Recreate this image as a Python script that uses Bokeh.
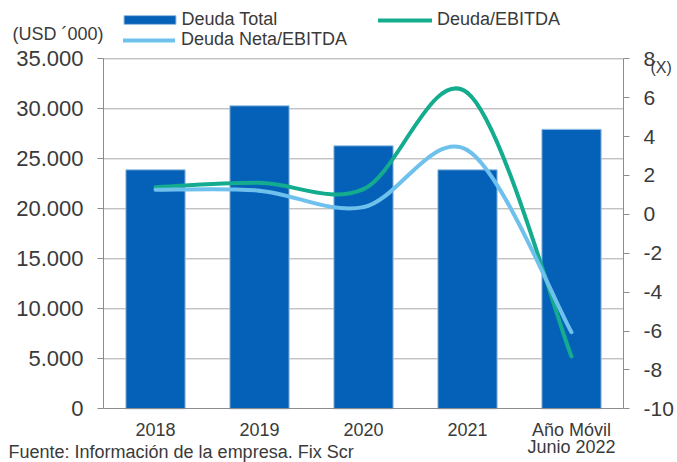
from bokeh.plotting import figure
from bokeh.models import (Range1d, LinearAxis, FixedTicker, Label, Legend,
                          LegendItem)
from bokeh.embed import file_html
from bokeh.resources import INLINE

# ---------------- data ----------------
categories = ["2018", "2019", "2020", "2021", "Año Móvil\nJunio 2022"]
deuda_total = [23900, 30300, 26300, 23900, 27950]
deuda_ebitda = [1.40, 1.62, 1.30, 6.25, -7.31]
deuda_neta_ebitda = [1.26, 1.22, 0.37, 3.30, -6.06]

left_ticks = [0, 5000, 10000, 15000, 20000, 25000, 30000, 35000]
left_tick_labels = ["0", "5.000", "10.000", "15.000", "20.000", "25.000",
                    "30.000", "35.000"]
right_ticks = [-10, -8, -6, -4, -2, 0, 2, 4, 6, 8]
right_tick_labels = ["-10", "-8", "-6", "-4", "-2", "0", "2", "4", "6", "8"]

# ---------------- style / layout ----------------
FONT = "Liberation Sans"
BAR = "#0561B8"
TEAL = "#14AC8E"
LBLUE = "#6EC1EC"
TXT = "#3A3A3A"
AXIS = "#8C8C8C"
GRID = "#A8A8A8"

W, H = 677, 462
PL, PR, PT, PB = 103.0, 623.0, 58.3, 408.3   # plot-area edges in pixels

n = len(categories)
xs = list(range(n))
xpx = (PR - PL) / n
x_start = -0.5 - PL / xpx
x_end = n - 0.5 + (W - PR) / xpx
lu = (left_ticks[-1] - left_ticks[0]) / (PB - PT)
y_start = left_ticks[0] - (H - PB) * lu
y_end = left_ticks[-1] + PT * lu
ru = (right_ticks[-1] - right_ticks[0]) / (PB - PT)
r_start = right_ticks[0] - (H - PB) * ru
r_end = right_ticks[-1] + PT * ru

p = figure(width=W, height=H, output_backend="svg", toolbar_location=None,
           x_range=Range1d(x_start, x_end), y_range=Range1d(y_start, y_end),
           min_border=0, min_border_left=0, min_border_right=0,
           min_border_top=0, min_border_bottom=0)
p.extra_y_ranges = {"right": Range1d(r_start, r_end)}
p.outline_line_color = None
p.background_fill_color = "white"
p.border_fill_color = "white"
p.xgrid.visible = False
p.ygrid.visible = False

# horizontal grid lines at the left-axis ticks, limited to the plot area
gt = left_ticks[1:]
p.segment(x0=[-0.5] * len(gt), x1=[n - 0.5] * len(gt), y0=gt, y1=gt,
          line_color=GRID, line_width=1)

# bars
r_bar = p.vbar(x=xs, top=deuda_total, width=0.57, fill_color=BAR,
               line_color="#9DC3E6", line_width=1)


def bezier_segments(xv, yv):
    m = len(xv)
    seg = dict(x0=[], y0=[], x1=[], y1=[], cx0=[], cy0=[], cx1=[], cy1=[])
    for i in range(m - 1):
        a = i - 1 if i > 0 else i
        d = i + 2 if i + 2 < m else i + 1
        seg["x0"].append(xv[i]); seg["y0"].append(yv[i])
        seg["x1"].append(xv[i + 1]); seg["y1"].append(yv[i + 1])
        seg["cx0"].append(xv[i] + (xv[i + 1] - xv[a]) / 6)
        seg["cy0"].append(yv[i] + (yv[i + 1] - yv[a]) / 6)
        seg["cx1"].append(xv[i + 1] - (xv[d] - xv[i]) / 6)
        seg["cy1"].append(yv[i + 1] - (yv[d] - yv[i]) / 6)
    return seg


line_renderers = []
for ys, col in ((deuda_ebitda, TEAL), (deuda_neta_ebitda, LBLUE)):
    s = bezier_segments(xs, ys)
    r = p.bezier(x0=s["x0"], y0=s["y0"], x1=s["x1"], y1=s["y1"],
                 cx0=s["cx0"], cy0=s["cy0"], cx1=s["cx1"], cy1=s["cy1"],
                 line_color=col, line_width=4, line_cap="round",
                 y_range_name="right")
    line_renderers.append(r)
r_teal, r_lb = line_renderers

# x axis
xa = p.xaxis[0]
xa.fixed_location = left_ticks[0]
xa.bounds = (-0.5, n - 0.5)
xa.ticker = FixedTicker(ticks=xs)
xa.major_label_overrides = {i: c for i, c in zip(xs, categories)}
xa.axis_line_color = AXIS
xa.axis_line_width = 1
xa.major_tick_line_color = None
xa.minor_tick_line_color = None
xa.major_label_standoff = 5
xa.major_label_text_font = FONT
xa.major_label_text_font_size = "18px"
xa.major_label_text_color = TXT
xa.major_label_text_line_height = 0.88

# left axis
ya = p.yaxis[0]
ya.fixed_location = -0.5
ya.bounds = (left_ticks[0], left_ticks[-1])
ya.ticker = FixedTicker(ticks=left_ticks)
ya.major_label_overrides = {t: l for t, l in zip(left_ticks, left_tick_labels)}
ya.axis_line_color = AXIS
ya.major_tick_line_color = AXIS
ya.major_tick_out = 6
ya.major_tick_in = 0
ya.minor_tick_line_color = None
ya.major_label_standoff = 14
ya.major_label_text_font = FONT
ya.major_label_text_font_size = "22px"
ya.major_label_text_color = TXT

# right axis
ra = LinearAxis(y_range_name="right", fixed_location=n - 0.5,
                bounds=(right_ticks[0], right_ticks[-1]))
ra.ticker = FixedTicker(ticks=right_ticks)
ra.major_label_overrides = {t: l for t, l in zip(right_ticks, right_tick_labels)}
ra.axis_line_color = AXIS
ra.major_tick_line_color = AXIS
ra.major_tick_out = 6
ra.major_tick_in = 0
ra.minor_tick_line_color = None
ra.major_label_standoff = 14
ra.major_label_text_font = FONT
ra.major_label_text_font_size = "21px"
ra.major_label_text_color = TXT
p.add_layout(ra, "right")


def add_legend(renderer, label, loc, gw, gh, standoff):
    lg = Legend(items=[LegendItem(label=label, renderers=[renderer])],
                location=loc, glyph_width=gw, glyph_height=gh,
                label_standoff=standoff, padding=0, margin=0, spacing=0,
                border_line_color=None, background_fill_alpha=0,
                label_text_font=FONT, label_text_font_size="18px",
                label_text_color=TXT, label_height=20)
    p.add_layout(lg, "center")


add_legend(r_bar, "Deuda Total", (116.5, H - 30), 65, 11, 0)
add_legend(r_lb, "Deuda Neta/EBITDA", (123, H - 50), 52, 20, 6)
add_legend(r_teal, "Deuda/EBITDA", (378, H - 30), 54, 20, 5)

# texts
p.add_layout(Label(x=12, y=H - 33.5, x_units="screen", y_units="screen",
                   text="(USD ´000)", text_font=FONT, text_font_size="18px",
                   text_color=TXT, text_baseline="middle"))
p.add_layout(Label(x=650, y=H - 67, x_units="screen", y_units="screen",
                   text="(X)", text_font=FONT, text_font_size="16px",
                   text_color=TXT, text_baseline="middle"))
p.add_layout(Label(x=8, y=1, x_units="screen", y_units="screen",
                   text="Fuente: Información de la empresa. Fix Scr",
                   text_font=FONT, text_font_size="18px",
                   text_color=TXT, text_baseline="bottom"))

open("out.html", "w").write(file_html(p, INLINE))
